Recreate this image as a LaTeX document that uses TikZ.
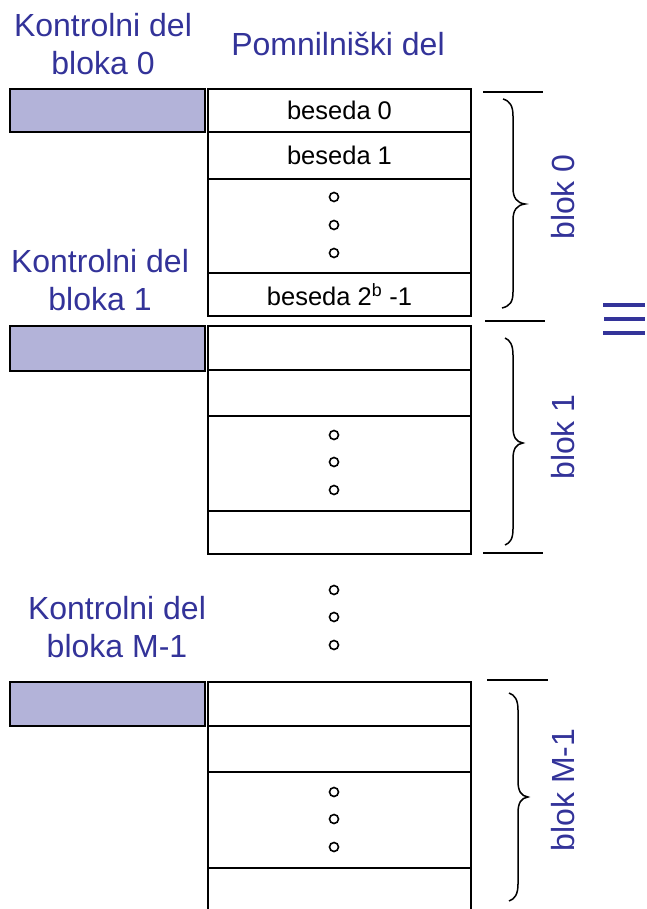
\documentclass[tikz,border=0pt]{standalone}
\usepackage{fontspec}
\setmainfont{Liberation Sans}
\definecolor{lblue}{RGB}{51,51,153}
\definecolor{ctrlfill}{RGB}{179,179,217}
\begin{document}
\begin{tikzpicture}[x=1pt,y=-1pt,
  ctrl/.style={draw, fill=ctrlfill, line width=2pt, minimum width=195pt, inner sep=0pt, outer sep=0pt},
  cell/.style={draw, fill=white, line width=1.5pt, minimum width=263pt, inner sep=0pt, outer sep=0pt, font=\fontsize{25.5}{30}\selectfont},
  lbl/.style={text=lblue, align=center, font=\fontsize{32}{38}\selectfont, inner sep=0pt},
  blk/.style={text=lblue, rotate=90, font=\fontsize{32}{38}\selectfont, inner sep=0pt},
  dotc/.style={circle, draw, line width=1.6pt, minimum size=9pt, inner sep=0pt},
  sep/.style={line width=1.5pt},
  brc/.style={line width=1.5pt},
  eqbar/.style={lblue, line width=4pt}
]
\useasboundingbox (0,0) rectangle (646,909);

% titles
\node[lbl] (k0) at (103,44) {Kontrolni del\\bloka 0};
\node[lbl] (pd) at (338,44) {Pomnilniški del};
\node[lbl] (k1) at (100,280) {Kontrolni del\\bloka 1};
\node[lbl] (km) at (117,627) {Kontrolni del\\bloka M-1};

% block 0
\node[ctrl, minimum height=43pt] (c0) at (107.5,110.5) {};
\node[cell, minimum height=43pt] (b0a) at (339.5,110.5) {beseda 0};
\node[cell, minimum height=47pt] (b0b) at (339.5,155.5) {beseda 1};
\node[cell, minimum height=94pt] (b0c) at (339.5,226) {};
\node[cell, minimum height=43pt] (b0d) at (339.5,294.5) {beseda 2\textsuperscript{b} -1};
\node[dotc] (d0a) at (334,197) {};
\node[dotc] (d0b) at (334,225) {};
\node[dotc] (d0c) at (334,253) {};

% block 1
\node[ctrl, minimum height=45pt] (c1) at (107.5,348.5) {};
\node[cell, minimum height=44pt] (b1a) at (339.5,348) {};
\node[cell, minimum height=46pt] (b1b) at (339.5,393) {};
\node[cell, minimum height=95pt] (b1c) at (339.5,463.5) {};
\node[cell, minimum height=43pt] (b1d) at (339.5,532.5) {};
\node[dotc] (d1a) at (334,435) {};
\node[dotc] (d1b) at (334,462) {};
\node[dotc] (d1c) at (334,490) {};

% middle dots
\node[dotc] (dma) at (334,590) {};
\node[dotc] (dmb) at (334,617) {};
\node[dotc] (dmc) at (334,645) {};

% block M-1
\node[ctrl, minimum height=44pt] (cm) at (107.5,704) {};
\node[cell, minimum height=44pt] (bma) at (339.5,704) {};
\node[cell, minimum height=46pt] (bmb) at (339.5,749) {};
\node[cell, minimum height=96pt] (bmc) at (339.5,820) {};
\node[cell, minimum height=62pt] (bmd) at (339.5,899) {};
\node[dotc] (dm1) at (334,792) {};
\node[dotc] (dm2) at (334,819) {};
\node[dotc] (dm3) at (334,847) {};

% separator lines
\coordinate (s0a) at (483,92);  \coordinate (s0b) at (543,92);
\coordinate (s1a) at (485,321); \coordinate (s1b) at (545,321);
\coordinate (s2a) at (483,553); \coordinate (s2b) at (543,553);
\coordinate (s3a) at (487,680); \coordinate (s3b) at (548,680);
\draw[sep] (s0a) -- (s0b);
\draw[sep] (s1a) -- (s1b);
\draw[sep] (s2a) -- (s2b);
\draw[sep] (s3a) -- (s3b);

% braces
\draw[brc] (503,99) .. controls (510,101) and (513,106) .. (513,116)
  -- (513,188) .. controls (513,198) and (517,203) .. (525,204)
  .. controls (517,205) and (513,210) .. (513,220)
  -- (513,292) .. controls (513,302) and (510,306) .. (502,308);
\draw[brc] (505,338) .. controls (510,340) and (513,345) .. (513,355)
  -- (513,427) .. controls (513,437) and (516,442) .. (523,443)
  .. controls (516,444) and (513,449) .. (513,459)
  -- (513,529) .. controls (513,539) and (510,543) .. (505,545);
\draw[brc] (509,693) .. controls (515,695) and (518,700) .. (518,710)
  -- (518,781) .. controls (518,791) and (521,796) .. (528,797)
  .. controls (521,798) and (518,803) .. (518,813)
  -- (518,884) .. controls (518,894) and (515,899) .. (509,901);

% block labels
\node[blk] (l0) at (563,197) {blok 0};
\node[blk] (l1) at (563,437) {blok 1};
\node[blk] (lm) at (563,790) {blok M-1};

% equivalence sign
\coordinate (e1a) at (603,305); \coordinate (e1b) at (645,305);
\coordinate (e2a) at (604,319); \coordinate (e2b) at (645,319);
\coordinate (e3a) at (603,333); \coordinate (e3b) at (645,333);
\draw[eqbar] (e1a) -- (e1b);
\draw[eqbar] (e2a) -- (e2b);
\draw[eqbar] (e3a) -- (e3b);
\end{tikzpicture}
\end{document}
